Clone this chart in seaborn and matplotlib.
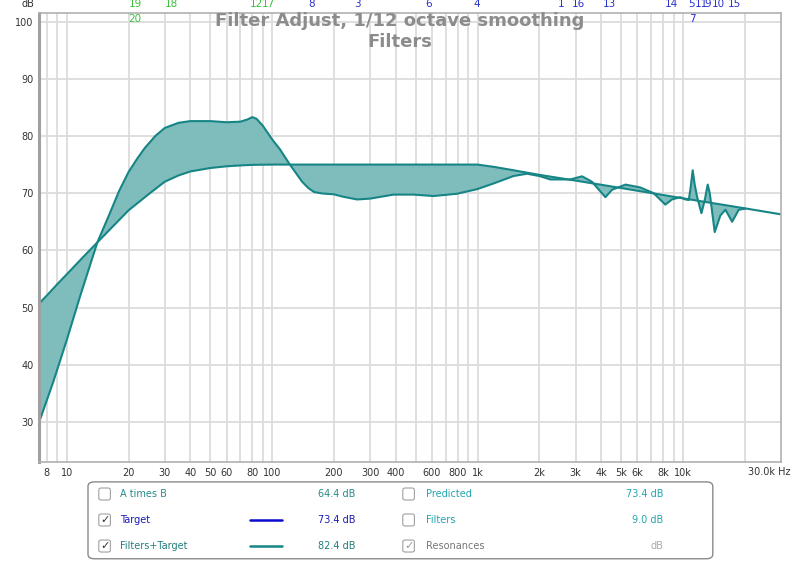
import numpy as np
import matplotlib
matplotlib.use("Agg")
import matplotlib.pyplot as plt
import matplotlib.transforms as mtransforms
from matplotlib.patches import FancyBboxPatch
from matplotlib.lines import Line2D
import seaborn as sns

# Target curve (Hz, dB)
target_hz = [7.33, 8, 9, 10, 12, 14.1, 17, 20, 25, 30, 35, 40, 50, 60, 70, 80, 100,
             200, 500, 1000, 1200, 1500, 2000, 3000, 5000, 10000, 20000, 30000]
target_db = [50.7, 52.1, 54.1, 55.8, 58.8, 61.4, 64.4, 67.0, 69.8, 72.0, 73.1, 73.8,
             74.4, 74.7, 74.85, 74.95, 75.0, 75.0, 75.0, 75.0, 74.6, 74.0, 73.2, 72.2,
             70.9, 69.1, 67.35, 66.3]

# Filters+Target curve (Hz, dB)
combo_hz = [7.33, 8.6, 10, 11.6, 14.1, 16, 18, 20, 22, 24, 27, 30, 35, 40, 50, 60, 70,
            76, 80, 84, 90, 101, 109, 122, 140, 150, 160, 175, 200, 220, 259, 300, 390,
            488, 611, 794, 994, 1197, 1497, 1740, 2000, 2260, 2832, 3225, 3604, 4190,
            4517, 5248, 6200, 7194, 8204, 8830, 9700, 10280, 10670, 10900, 11150, 11400,
            11720, 12300, 12800, 13190, 13500, 13700, 14270, 15200, 16100, 17350, 18680,
            20150]
combo_db = [29.9, 37.0, 44.3, 51.9, 61.4, 66.0, 70.4, 73.7, 76.0, 77.9, 80.0, 81.4, 82.3,
            82.6, 82.6, 82.4, 82.5, 82.9, 83.3, 83.0, 81.8, 79.2, 77.7, 75.0, 72.0, 70.9,
            70.2, 69.95, 69.8, 69.4, 68.9, 69.05, 69.75, 69.75, 69.5, 69.9, 70.7, 71.7,
            73.0, 73.4, 73.0, 72.4, 72.4, 72.95, 72.0, 69.3, 70.6, 71.5, 71.0, 70.0, 68.0,
            68.9, 69.3, 68.9, 68.8, 71.0, 74.0, 71.5, 69.3, 66.5, 69.0, 71.5, 70.0, 68.2,
            63.2, 66.1, 67.1, 65.0, 67.1, 67.3]

# filter numbers shown above the plot
filt_labels = ["19", "18", "12", "17", "20", "8", "3", "6", "4", "1", "16", "13", "14",
               "5", "11", "9", "10", "15", "7"]
filt_hz = [21.5, 32.2, 83.6, 95.7, 21.5, 155, 259, 576, 986, 2560, 3094, 4385, 8790,
           11000, 12350, 13250, 14900, 17800, 11100]
filt_row = [0, 0, 0, 0, 1, 0, 0, 0, 0, 0, 0, 0, 0, 0, 0, 0, 0, 0, 1]
filt_green = [1, 1, 1, 1, 1, 0, 0, 0, 0, 0, 0, 0, 0, 0, 0, 0, 0, 0, 0]

x_ticks = [8, 10, 20, 30, 40, 50, 60, 80, 100, 200, 300, 400, 600, 800, 1000, 2000,
           3000, 4000, 5000, 6000, 8000, 10000]
x_ticklabels = ["8", "10", "20", "30", "40", "50", "60", "80", "100", "200", "300",
                "400", "600", "800", "1k", "2k", "3k", "4k", "5k", "6k", "8k", "10k"]
y_ticks = [30, 40, 50, 60, 70, 80, 90, 100]

sns.set_theme(style="white")
plt.rcParams['font.family'] = ['DejaVu Sans']

line_col = "#178585"
fill_col = "#7fbdbd"
grid_col = "#dcdcdc"

fig = plt.figure(figsize=(8, 5.61), dpi=100)
ax = fig.add_axes([0.04875, 0.1765, 0.9275, 0.8003])
ax.set_xscale("log")
ax.set_xlim(7.33, 30000)
ax.set_ylim(23.0, 101.5)

# grid: every 1..9 multiple on the log axis
grid_hz = [m * 10 ** e for e in range(0, 5) for m in range(1, 10)]
grid_hz = [g for g in grid_hz if 7.5 < g < 29000]
for g in grid_hz:
    ax.axvline(g, color=grid_col, lw=1.3, zorder=0)
for y in y_ticks:
    ax.axhline(y, color=grid_col, lw=1.3, zorder=0)

# shaded area between the two curves
poly_x = list(combo_hz) + list(reversed(target_hz))
poly_y = list(combo_db) + list(reversed(target_db))
ax.fill(poly_x, poly_y, color=fill_col, lw=0, zorder=1)

sns.lineplot(x=target_hz, y=target_db, ax=ax, color=line_col, lw=1.5, sort=False,
             zorder=2, solid_joinstyle="round")
sns.lineplot(x=combo_hz, y=combo_db, ax=ax, color=line_col, lw=1.5, sort=False,
             zorder=2, solid_joinstyle="round")

ax.set_xticks(x_ticks)
ax.set_xticklabels(x_ticklabels)
ax.xaxis.set_minor_locator(matplotlib.ticker.NullLocator())
ax.set_yticks(y_ticks)
ax.tick_params(axis="both", labelsize=7, colors="#333333", length=0, pad=4)
ax.set_xlabel("")
ax.set_ylabel("")
for s in ax.spines.values():
    s.set_color("#b0b0b0")
    s.set_linewidth(1.2)
ax.spines["left"].set_linewidth(2.2)
ax.spines["left"].set_color("#a0a0a0")

fig.text(0.9875, 0.1586, "30.0k Hz", ha="right", va="center", fontsize=7, color="#333333")
fig.text(0.035, 0.993, "dB", ha="center", va="center", fontsize=7, color="#333333")

# title
fig.text(0.5, 0.962, "Filter Adjust, 1/12 octave smoothing", ha="center", va="center",
         fontsize=13, fontweight="bold", color="#8c8c8c")
fig.text(0.5, 0.925, "Filters", ha="center", va="center",
         fontsize=13, fontweight="bold", color="#8c8c8c")

# filter numbers
trans = mtransforms.blended_transform_factory(ax.transData, fig.transFigure)
for lab, hz, row, g in zip(filt_labels, filt_hz, filt_row, filt_green):
    yy = 0.992 if row == 0 else 0.967
    ax.text(hz, yy, lab, transform=trans, ha="center", va="center", fontsize=7.5,
            color="#3cbf3c" if g else "#2830d0", clip_on=False)

# legend box
box = FancyBboxPatch((0.11, 0.004), 0.781, 0.137, boxstyle="round,pad=0,rounding_size=0.008",
                     transform=fig.transFigure, fc="white", ec="#8a8a8a", lw=1.0)
fig.patches.append(box)

rows_y = [0.1194, 0.0731, 0.0267]


def checkbox(x, y, checked, col="#999999"):
    r = FancyBboxPatch((x, y - 0.0107), 0.0145, 0.0214, boxstyle="round,pad=0,rounding_size=0.003",
                       transform=fig.transFigure, fc="white", ec="#a0a0a0", lw=0.8)
    fig.patches.append(r)
    if checked:
        fig.text(x + 0.0073, y, "\u2713", ha="center", va="center", fontsize=8, color=col)


left_items = [("A times B", "64.4 dB", "#2a8a8a", False, None),
              ("Target", "73.4 dB", "#1a1ab8", True, "#0a0ad0"),
              ("Filters+Target", "82.4 dB", "#237f7f", True, line_col)]
right_items = [("Predicted", "73.4 dB", "#22a6ae", False),
               ("Filters", "9.0 dB", "#22a6ae", False),
               ("Resonances", "dB", "#777777", True)]

for (lab, val, col, chk, lc), y in zip(left_items, rows_y):
    checkbox(0.1235, y, chk, "#333333")
    fig.text(0.150, y, lab, ha="left", va="center", fontsize=7, color=col)
    fig.text(0.444, y, val, ha="right", va="center", fontsize=7, color=col)
    if lc is not None:
        fig.lines.append(Line2D([0.313, 0.353], [y, y], transform=fig.transFigure,
                                color=lc, lw=1.8))

for (lab, val, col, chk), y in zip(right_items, rows_y):
    checkbox(0.5035, y, chk, "#999999")
    fig.text(0.533, y, lab, ha="left", va="center", fontsize=7, color=col)
    fig.text(0.829, y, val, ha="right", va="center", fontsize=7,
             color=col if lab != "Resonances" else "#aaaaaa")

fig.savefig("out.png", dpi=100)
